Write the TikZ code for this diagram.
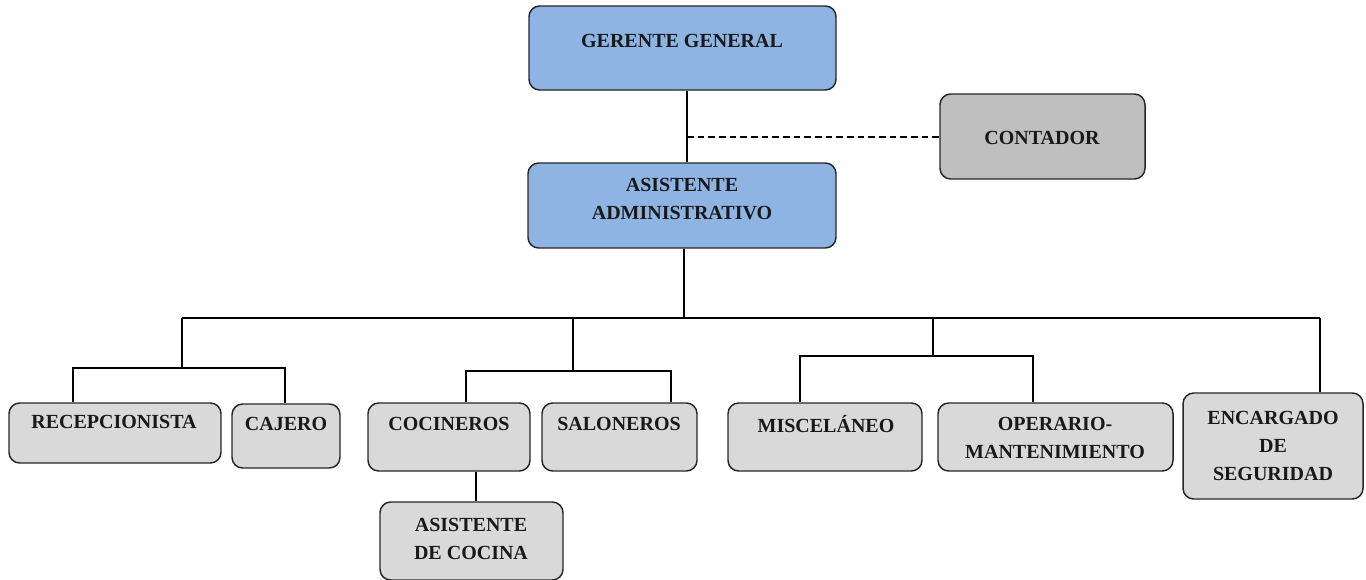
\documentclass[tikz,border=0pt]{standalone}
\usepackage{fontspec}
\setmainfont{Liberation Serif}
\begin{document}
\begin{tikzpicture}[x=0.75pt,y=-0.75pt,
  box/.style={draw=black!85, line width=1.1pt, rounded corners=8pt, inner sep=0pt},
  bluebox/.style={box, fill=boxblue},
  graybox/.style={box, fill=boxgray},
  darkbox/.style={box, fill=boxdark},
  lbl/.style={font=\bfseries\fontsize{15}{21}\selectfont, align=center, inner sep=0pt, text=black!90},
  conn/.style={draw=black, line width=0.9pt}]
\definecolor{boxblue}{RGB}{141,180,226}
\definecolor{boxgray}{RGB}{217,217,217}
\definecolor{boxdark}{RGB}{191,191,191}
\useasboundingbox (0,0) rectangle (1366,579);
% boxes
\node[bluebox, minimum width=307*0.75pt, minimum height=84*0.75pt] (g) at (682.5,48) {};
\node[bluebox, minimum width=308*0.75pt, minimum height=85*0.75pt] (a) at (682,205.5) {};
\node[darkbox, minimum width=205*0.75pt, minimum height=85*0.75pt] (c) at (1042.5,136.5) {};
\node[graybox, minimum width=212*0.75pt, minimum height=60*0.75pt] (rec) at (115,433) {};
\node[graybox, minimum width=108*0.75pt, minimum height=64*0.75pt] (caj) at (286,436) {};
\node[graybox, minimum width=162*0.75pt, minimum height=68*0.75pt] (coc) at (449,437) {};
\node[graybox, minimum width=155*0.75pt, minimum height=68*0.75pt] (sal) at (619.5,437) {};
\node[graybox, minimum width=194*0.75pt, minimum height=68*0.75pt] (mis) at (825,437) {};
\node[graybox, minimum width=235*0.75pt, minimum height=68*0.75pt] (ope) at (1055.5,437) {};
\node[graybox, minimum width=180*0.75pt, minimum height=106*0.75pt] (enc) at (1273,446) {};
\node[graybox, minimum width=183*0.75pt, minimum height=78*0.75pt] (asc) at (471.5,541) {};
% labels
\node[lbl] (tg) at (682,41) {GERENTE GENERAL};
\node[lbl] (ta) at (682,199) {ASISTENTE\\ADMINISTRATIVO};
\node[lbl] (tc) at (1042,138) {CONTADOR};
\node[lbl] (trec) at (114,422) {RECEPCIONISTA};
\node[lbl] (tcaj) at (286,424) {CAJERO};
\node[lbl] (tcoc) at (449,424) {COCINEROS};
\node[lbl] (tsal) at (619,424) {SALONEROS};
\node[lbl] (tmis) at (826,424) {MISCELÁNEO};
\node[lbl] (tope) at (1055,438) {OPERARIO-\\MANTENIMIENTO};
\node[lbl] (tenc) at (1273,446) {ENCARGADO\\DE\\SEGURIDAD};
\node[lbl] (tasc) at (471,539) {ASISTENTE\\DE COCINA};
% connector coordinates
\coordinate (d) at (687,137);
\coordinate (bus) at (684,318);
\coordinate (b1) at (182,318);
\coordinate (b2) at (573,318);
\coordinate (b3) at (933,318);
\coordinate (b4) at (1320,318);
\coordinate (s1) at (182,368);
\coordinate (s2) at (573,371);
\coordinate (s3) at (933,356);
% connectors
\draw[conn] (g.south -| d) -- (a.north -| d);
\draw[conn, dashed, dash pattern=on 5pt off 3pt] (d) -- (c.west |- d);
\draw[conn] (a.south -| bus) -- (bus);
\draw[conn] (b1) -- (b4);
\draw[conn] (b1) -- (s1);
\draw[conn] (b2) -- (s2);
\draw[conn] (b3) -- (s3);
\draw[conn] (b4) -- (enc.north -| b4);
\draw[conn] (rec.north -| 73,0) |- (s1) -| (caj.north -| 285,0);
\draw[conn] (coc.north -| 466,0) |- (s2) -| (sal.north -| 671,0);
\draw[conn] (mis.north -| 800,0) |- (s3) -| (ope.north -| 1033,0);
\draw[conn] (coc.south -| 476,0) -- (asc.north -| 476,0);
\end{tikzpicture}
\end{document}
